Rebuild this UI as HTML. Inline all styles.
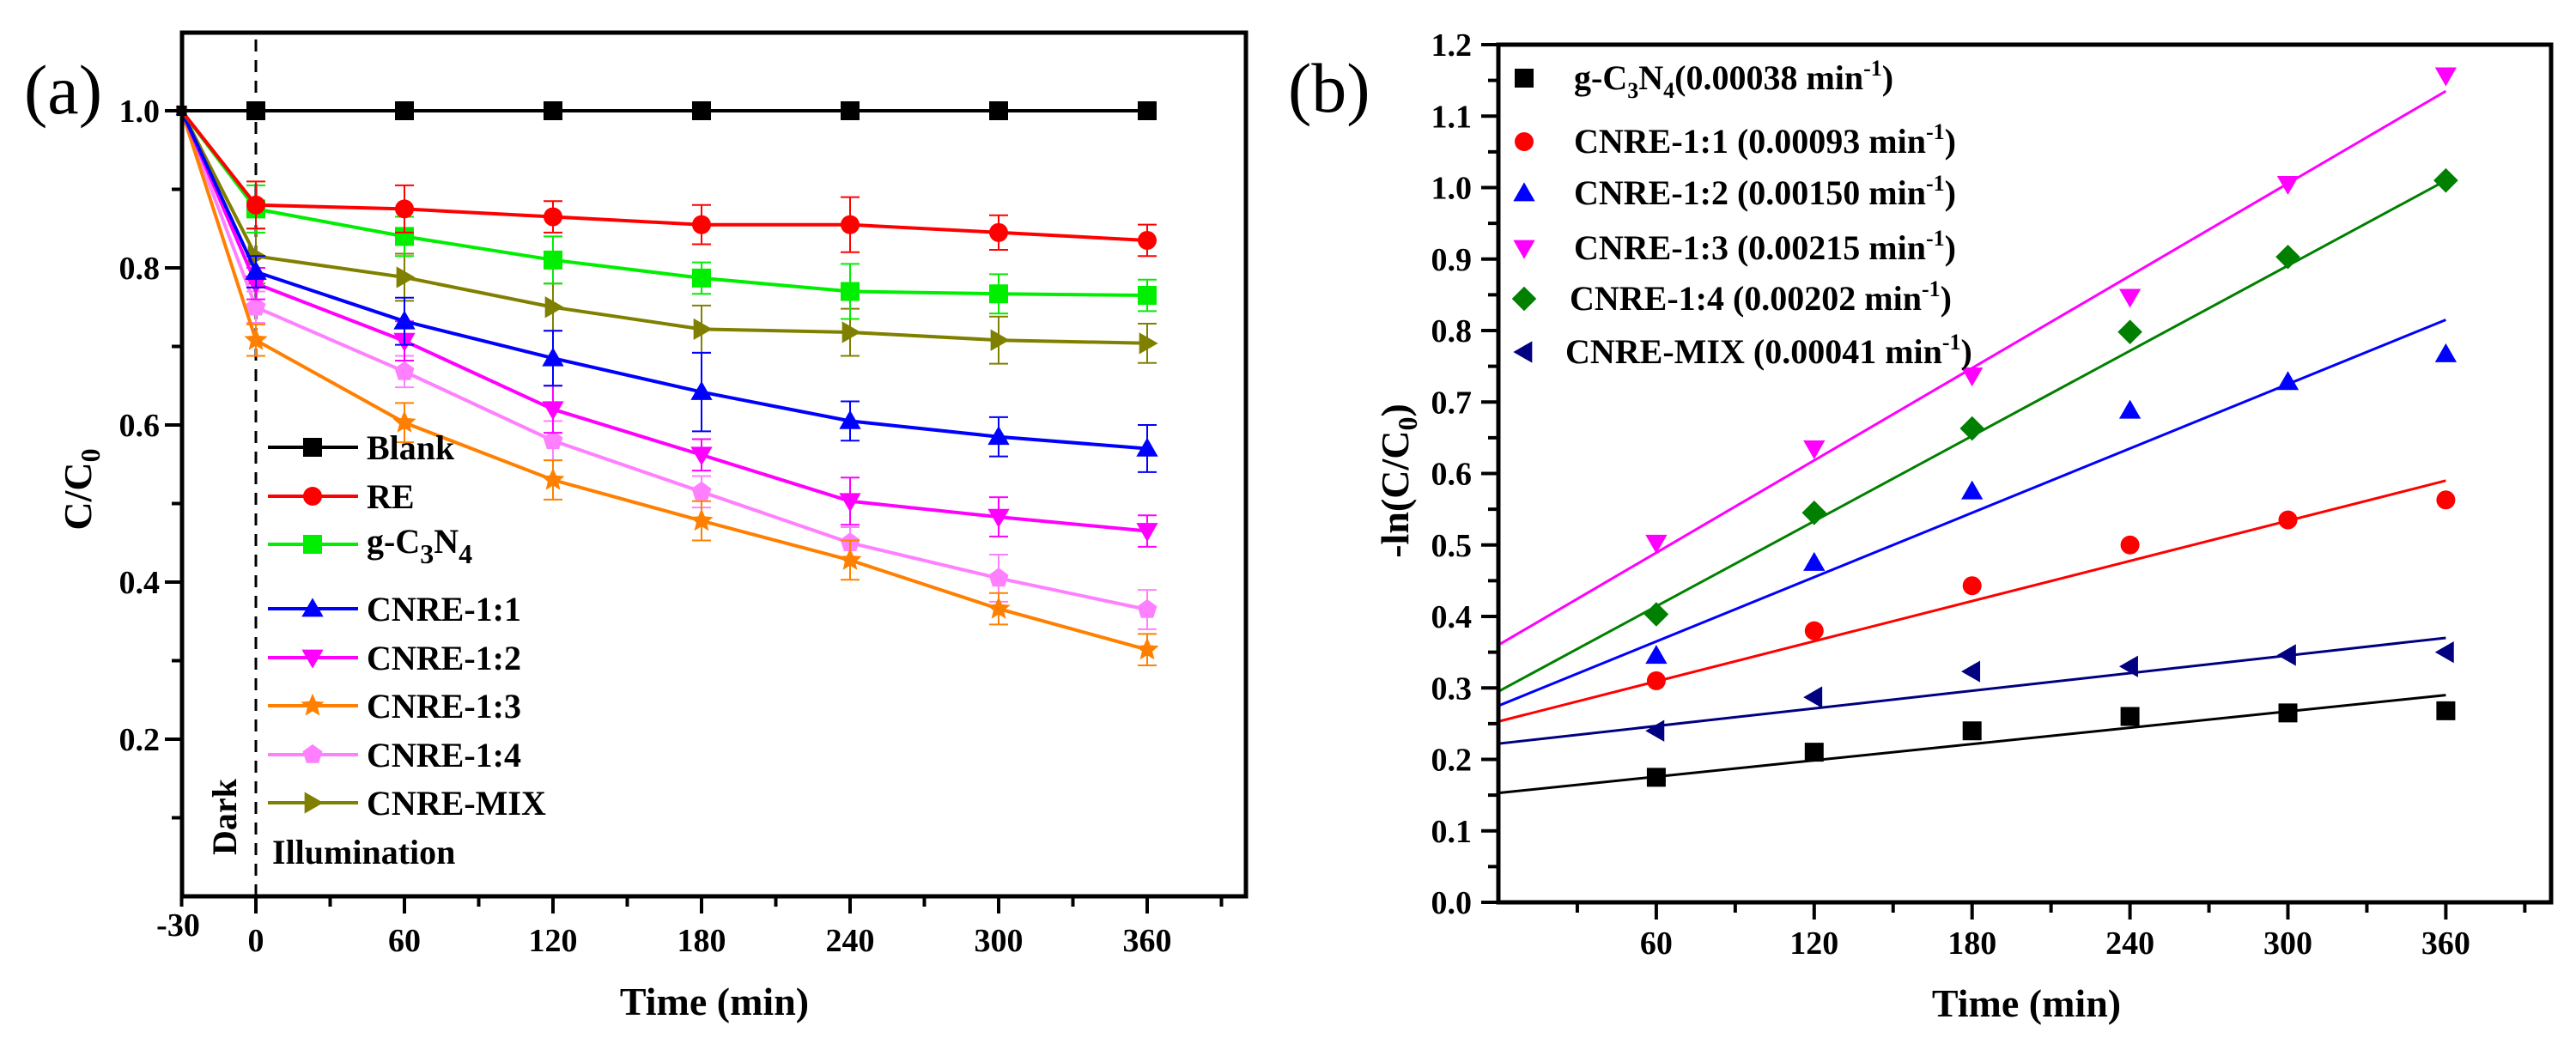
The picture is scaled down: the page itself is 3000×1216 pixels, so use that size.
<!DOCTYPE html>
<html><head><meta charset="utf-8"><title>Photocatalytic degradation</title>
<style>
html,body{margin:0;padding:0;background:#fff;}
svg{display:block;}
text{font-family:"Liberation Serif","Times New Roman",serif;}
</style></head>
<body>
<svg id="fig" width="3000" height="1216" viewBox="0 0 3000 1216" xmlns="http://www.w3.org/2000/svg">
<rect width="3000" height="1216" fill="#fff"/>
<g id="pa"></g>
<g id="pb"></g>
</svg>
<script>
// ---------- Panel (a) data ----------
const aTimes = [-30, 0, 60, 120, 180, 240, 300, 360];
const aNames = ["Blank", "RE", "g-C3N4", "CNRE-1:1", "CNRE-1:2", "CNRE-1:3", "CNRE-1:4", "CNRE-MIX"];
const aBlank = [1, 1, 1, 1, 1, 1, 1, 1];
const aRE = [1, 0.88, 0.875, 0.865, 0.855, 0.855, 0.845, 0.835];
const aG = [1, 0.875, 0.84, 0.81, 0.787, 0.77, 0.767, 0.765];
const a11 = [1, 0.795, 0.732, 0.685, 0.642, 0.605, 0.585, 0.57];
const a12 = [1, 0.78, 0.707, 0.62, 0.562, 0.503, 0.483, 0.465];
const a13 = [1, 0.708, 0.603, 0.53, 0.478, 0.428, 0.366, 0.314];
const a14 = [1, 0.75, 0.668, 0.58, 0.515, 0.45, 0.405, 0.365];
const aMIX = [1, 0.815, 0.788, 0.75, 0.722, 0.718, 0.708, 0.704];
const eBlank = [0, 0, 0, 0, 0, 0, 0, 0];
const eRE = [0, 0.03, 0.03, 0.02, 0.025, 0.035, 0.022, 0.02];
const eG = [0, 0.03, 0.025, 0.03, 0.02, 0.035, 0.025, 0.02];
const e11 = [0, 0.02, 0.03, 0.035, 0.05, 0.025, 0.025, 0.03];
const e12 = [0, 0.02, 0.025, 0.03, 0.02, 0.03, 0.025, 0.02];
const e13 = [0, 0.02, 0.025, 0.025, 0.025, 0.025, 0.02, 0.02];
const e14 = [0, 0.02, 0.02, 0.025, 0.02, 0.02, 0.03, 0.025];
const eMIX = [0, 0.035, 0.03, 0.03, 0.03, 0.03, 0.03, 0.025];
const aXTicks = [0, 60, 120, 180, 240, 300, 360];
const aYTicks = [0.2, 0.4, 0.6, 0.8, 1.0];
const aYTickLabels = ["0.2", "0.4", "0.6", "0.8", "1.0"];

// ---------- Panel (b) data ----------
const bTimes = [60, 120, 180, 240, 300, 360];
const bNames = ["g-C3N4", "CNRE-1:1", "CNRE-1:2", "CNRE-1:3", "CNRE-1:4", "CNRE-MIX"];
const bRates = ["0.00038", "0.00093", "0.00150", "0.00215", "0.00202", "0.00041"];
const bG = [0.175, 0.21, 0.24, 0.26, 0.265, 0.268];
const b11 = [0.31, 0.38, 0.443, 0.50, 0.535, 0.563];
const b12 = [0.345, 0.475, 0.575, 0.688, 0.728, 0.767];
const b13 = [0.503, 0.635, 0.737, 0.847, 1.005, 1.157];
const b14 = [0.403, 0.545, 0.663, 0.798, 0.903, 1.01];
const bMIX = [0.24, 0.287, 0.323, 0.33, 0.346, 0.35];
const bFitStart = [0.153, 0.253, 0.275, 0.36, 0.295, 0.222];
const bFitEnd = [0.29, 0.59, 0.815, 1.135, 1.01, 0.37];
const bXTicks = [60, 120, 180, 240, 300, 360];
const bYTicks = [0, 0.1, 0.2, 0.3, 0.4, 0.5, 0.6, 0.7, 0.8, 0.9, 1.0, 1.1, 1.2];
const bYTickLabels = ["0.0","0.1","0.2","0.3","0.4","0.5","0.6","0.7","0.8","0.9","1.0","1.1","1.2"];

const NS = "http://www.w3.org/2000/svg";
function mk(parent, tag, attrs, txt) {
  const el = document.createElementNS(NS, tag);
  for (const k in attrs) el.setAttribute(k, attrs[k]);
  if (txt !== undefined) el.textContent = txt;
  parent.appendChild(el);
  return el;
}
function markerPath(shape, cx, cy, s) {
  const r = s / 2;
  switch (shape) {
    case "square": return `M${cx-r},${cy-r}h${s}v${s}h${-s}Z`;
    case "circle": return `M${cx-r},${cy}a${r},${r} 0 1,0 ${s},0a${r},${r} 0 1,0 ${-s},0Z`;
    case "up": return `M${cx},${cy-r*1.15}L${cx+r*1.15},${cy+r*0.85}L${cx-r*1.15},${cy+r*0.85}Z`;
    case "down": return `M${cx},${cy+r*1.15}L${cx+r*1.15},${cy-r*0.85}L${cx-r*1.15},${cy-r*0.85}Z`;
    case "right": return `M${cx+r*1.15},${cy}L${cx-r*0.85},${cy-r*1.15}L${cx-r*0.85},${cy+r*1.15}Z`;
    case "left": return `M${cx-r*1.15},${cy}L${cx+r*0.85},${cy-r*1.15}L${cx+r*0.85},${cy+r*1.15}Z`;
    case "diamond": return `M${cx},${cy-r*1.3}L${cx+r*1.3},${cy}L${cx},${cy+r*1.3}L${cx-r*1.3},${cy}Z`;
    case "star": {
      let d = ""; const R = r*1.3, ri = R*0.45;
      for (let i = 0; i < 10; i++) { const a = -Math.PI/2 + i*Math.PI/5; const rr = i%2 ? ri : R;
        d += (i ? "L" : "M") + (cx + rr*Math.cos(a)).toFixed(1) + "," + (cy + rr*Math.sin(a)).toFixed(1); }
      return d + "Z";
    }
    case "pentagon": {
      let d = ""; const R = r*1.1;
      for (let i = 0; i < 5; i++) { const a = -Math.PI/2 + i*2*Math.PI/5;
        d += (i ? "L" : "M") + (cx + R*Math.cos(a)).toFixed(1) + "," + (cy + R*Math.sin(a)).toFixed(1); }
      return d + "Z";
    }
  }
}

// ================= Panel (a) =================
(function () {
  const g = document.getElementById("pa");
  const L = 212, R = 1451, T = 38, B = 1044;
  const x = t => 298 + (t) * (173 / 60);
  const y = v => 129 + (1.0 - v) * 915;
  const series = [aBlank, aRE, aG, a11, a12, a13, a14, aMIX];
  const errs = [eBlank, eRE, eG, e11, e12, e13, e14, eMIX];
  const colors = ["#000000", "#ff0000", "#00ee00", "#0000ff", "#ff00ff", "#ff8000", "#ff80ff", "#808000"];
  const shapes = ["square", "circle", "square", "up", "down", "star", "pentagon", "right"];

  const dl = mk(g, "line", {x1: x(0), y1: T + 8, x2: x(0), y2: B, stroke: "#000", "stroke-width": 3, "stroke-dasharray": "14,10"});
  
  

  for (let s = series.length - 1; s >= 0; s--) {
    const sg = mk(g, "g", {});
    
    
    for (let i = 0; i < aTimes.length; i++) {
      const e = errs[s][i]; if (!e) continue;
      const cx = x(aTimes[i]);
      const eb = mk(sg, "path", {d: `M${cx},${y(series[s][i]-e)}V${y(series[s][i]+e)}M${cx-11},${y(series[s][i]-e)}h22M${cx-11},${y(series[s][i]+e)}h22`, stroke: colors[s], "stroke-width": 2, fill: "none"});
      
      
    }
    const pts = aTimes.map((t, i) => x(t).toFixed(1) + "," + y(series[s][i]).toFixed(1)).join(" ");
    const pl = mk(sg, "polyline", {points: pts, fill: "none", stroke: colors[s], "stroke-width": 4});
    
    
    for (let i = 0; i < aTimes.length; i++) {
      const m = mk(sg, "path", {d: markerPath(shapes[s], x(aTimes[i]), y(series[s][i]), i === 0 ? 12 : 22), fill: colors[s]});
      
      
    }
  }

  const fr = mk(g, "rect", {x: L, y: T, width: R - L, height: B - T, fill: "none", stroke: "#000", "stroke-width": 5});
  
  

  for (let t = -30; t <= 390; t += 30) {
    const major = (t % 60 === 0);
    const tk = mk(g, "line", {x1: x(t), y1: B, x2: x(t), y2: B + (major ? 20 : 12), stroke: "#000", "stroke-width": 4});
    
    
  }
  aXTicks.forEach(t => {
    const tl = mk(g, "text", {x: x(t), y: 1108, "font-size": 38, "font-weight": "bold", "text-anchor": "middle"}, String(t));
    
    
  });
  const tm = mk(g, "text", {x: x(-30) - 4, y: 1090, "font-size": 38, "font-weight": "bold", "text-anchor": "middle"}, "-30");
  
  

  for (let v = 0.1; v <= 1.05; v += 0.1) {
    const major = Math.round(v * 10) % 2 === 0;
    const tk = mk(g, "line", {x1: L, y1: y(v), x2: L - (major ? 20 : 12), y2: y(v), stroke: "#000", "stroke-width": 4});
    
    
  }
  aYTicks.forEach((v, i) => {
    const tl = mk(g, "text", {x: 186, y: y(v) + 13, "font-size": 38, "font-weight": "bold", "text-anchor": "end"}, aYTickLabels[i]);
    
    
  });

  const legY = [521, 578, 634, 709, 766, 822, 879, 935];
  for (let s = 0; s < series.length; s++) {
    const lg = mk(g, "g", {});
    
    
    mk(lg, "line", {x1: 312, y1: legY[s], x2: 417, y2: legY[s], stroke: colors[s], "stroke-width": 4});
    mk(lg, "path", {d: markerPath(shapes[s], 364, legY[s], 22), fill: colors[s]});
    if (s === 2) {
      const t = mk(lg, "text", {x: 427, y: legY[s] + 10, "font-size": 40, "font-weight": "bold"});
      t.innerHTML = 'g-C<tspan font-size="32" dy="12">3</tspan><tspan dy="-12">N</tspan><tspan font-size="32" dy="12">4</tspan>';
    } else {
      mk(lg, "text", {x: 427, y: legY[s] + 14, "font-size": 40, "font-weight": "bold"}, aNames[s]);
    }
  }
  const il = mk(g, "text", {x: 317, y: 1006, "font-size": 40, "font-weight": "bold"}, "Illumination");
  
  
  const dk = mk(g, "text", {x: 0, y: 0, "font-size": 40, "font-weight": "bold", transform: "translate(275,996) rotate(-90)"}, "Dark");
  
  

  const xt = mk(g, "text", {x: 832, y: 1182, "font-size": 46, "font-weight": "bold", "text-anchor": "middle"}, "Time (min)");
  
  
  const yt = mk(g, "text", {x: 0, y: 0, "font-size": 46, "font-weight": "bold", "text-anchor": "middle", transform: "translate(106,570) rotate(-90)"});
  yt.innerHTML = 'C/C<tspan font-size="32" dy="10">0</tspan>';
  
  
  const pl = mk(g, "text", {x: 28, y: 132, "font-size": 82}, "(a)");
  
  
})();

// ================= Panel (b) =================
(function () {
  const g = document.getElementById("pb");
  const L = 1745, R = 2971, T = 52, B = 1051;
  const x = t => L + t * ((R - L) / 400);
  const y = v => B - v * ((B - T) / 1.2);
  const series = [bG, b11, b12, b13, b14, bMIX];
  const colors = ["#000000", "#ff0000", "#0000ff", "#ff00ff", "#008000", "#000080"];
  const shapes = ["square", "circle", "up", "down", "diamond", "left"];

  for (let s = 0; s < series.length; s++) {
    const sg = mk(g, "g", {});
    
    
    const fl = mk(sg, "line", {x1: x(0), y1: y(bFitStart[s]), x2: x(360), y2: y(bFitEnd[s]), stroke: colors[s], "stroke-width": 3});
    
    
    for (let i = 0; i < bTimes.length; i++) {
      const m = mk(sg, "path", {d: markerPath(shapes[s], x(bTimes[i]), y(series[s][i]), 22), fill: colors[s]});
      
      
    }
  }

  const fr = mk(g, "rect", {x: L, y: T, width: R - L, height: B - T, fill: "none", stroke: "#000", "stroke-width": 5});
  
  

  for (let t = 30; t <= 390; t += 30) {
    const major = (t % 60 === 0);
    const tk = mk(g, "line", {x1: x(t), y1: B, x2: x(t), y2: B + (major ? 20 : 12), stroke: "#000", "stroke-width": 4});
    
    
  }
  bXTicks.forEach(t => {
    const tl = mk(g, "text", {x: x(t), y: 1111, "font-size": 38, "font-weight": "bold", "text-anchor": "middle"}, String(t));
    
    
  });
  for (let k = 0; k <= 24; k++) {
    const v = k * 0.05;
    const major = k % 2 === 0;
    const tk = mk(g, "line", {x1: L, y1: y(v), x2: L - (major ? 20 : 12), y2: y(v), stroke: "#000", "stroke-width": 4});
    
    
  }
  bYTicks.forEach((v, i) => {
    const tl = mk(g, "text", {x: 1714, y: y(v) + 13, "font-size": 38, "font-weight": "bold", "text-anchor": "end"}, bYTickLabels[i]);
    
    
  });

  const legY = [91, 165, 225, 289, 348, 410];
  const legX = [1833, 1833, 1833, 1833, 1828, 1823];
  for (let s = 0; s < series.length; s++) {
    const lg = mk(g, "g", {});
    
    
    mk(lg, "path", {d: markerPath(shapes[s], 1775, legY[s], 22), fill: colors[s]});
    const t = mk(lg, "text", {x: legX[s], y: legY[s] + 13, "font-size": 40, "font-weight": "bold"});
    const name = s === 0 ? 'g-C<tspan font-size="26" dy="10">3</tspan><tspan dy="-10">N</tspan><tspan font-size="26" dy="10">4</tspan><tspan dy="-10">(</tspan>' : bNames[s] + ' (';
    t.innerHTML = name + bRates[s] + ' min<tspan font-size="26" dy="-16">-1</tspan><tspan dy="16">)</tspan>';
  }

  const xt = mk(g, "text", {x: 2360, y: 1184, "font-size": 46, "font-weight": "bold", "text-anchor": "middle"}, "Time (min)");
  
  
  const yt = mk(g, "text", {x: 0, y: 0, "font-size": 46, "font-weight": "bold", "text-anchor": "middle", transform: "translate(1640,560) rotate(-90)"});
  yt.innerHTML = '-ln(C/C<tspan font-size="32" dy="10">0</tspan><tspan dy="-10">)</tspan>';
  
  
  const pl = mk(g, "text", {x: 1500, y: 130, "font-size": 82}, "(b)");
  
  
})();
</script>
</body></html>
